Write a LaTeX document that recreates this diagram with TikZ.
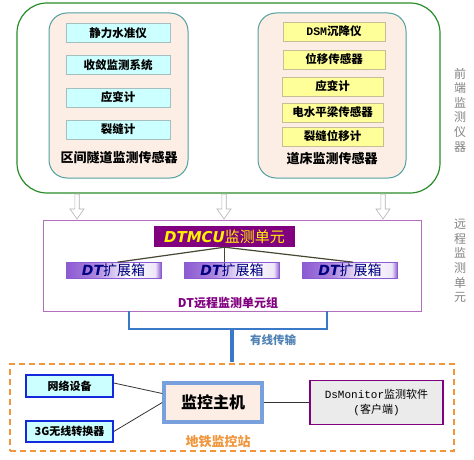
\documentclass[tikz,border=0pt]{standalone}
\usepackage{fontspec}
\setmainfont{Noto Sans CJK SC}
\newfontfamily\dvs{DejaVu Sans}
\newfontfamily\lmono{Liberation Mono}
\definecolor{cgreen}{RGB}{40,140,40}
\definecolor{cteal}{RGB}{80,160,160}
\definecolor{cpeach}{RGB}{252,238,228}
\definecolor{ccyan}{RGB}{204,255,255}
\definecolor{ccyanb}{RGB}{165,190,190}
\definecolor{cyel}{RGB}{255,255,153}
\definecolor{cyelb}{RGB}{200,190,150}
\definecolor{cpurb}{RGB}{180,110,190}
\definecolor{cpur}{RGB}{128,0,128}
\definecolor{cdtp}{RGB}{140,90,210}
\definecolor{cnavy}{RGB}{0,0,128}
\definecolor{cline}{RGB}{70,70,50}
\definecolor{cblue}{RGB}{58,120,200}
\definecolor{cwire}{RGB}{80,130,180}
\definecolor{corange}{RGB}{240,150,60}
\definecolor{cnetb}{RGB}{20,40,220}
\definecolor{chostb}{RGB}{120,160,220}
\definecolor{cgrayf}{RGB}{235,235,235}
\definecolor{cside}{RGB}{130,130,130}
\pgfdeclarehorizontalshading{dtshade}{100bp}{color(0bp)=(cdtp); color(25bp)=(cdtp); color(40bp)=(cdtp!75); color(58bp)=(white); color(72bp)=(white!85!cdtp); color(75bp)=(cdtp); color(100bp)=(cdtp)}
\tikzset{
  fsz/.style={font=\fontsize{#1}{#1}\selectfont},
  cyanbox/.style={draw=ccyanb, fill=ccyan, line width=0.8pt, minimum width=104pt, minimum height=19pt, inner sep=0pt, font=\fontsize{11.5}{12}\selectfont\bfseries},
  yelbox/.style={draw=cyelb, fill=cyel, line width=0.8pt, minimum height=19pt, inner sep=0pt, font=\fontsize{11.5}{12}\selectfont\bfseries},
  groupbox/.style={draw=cteal, fill=cpeach, line width=1pt, rounded corners=18pt},
  dtbox/.style={draw=cdtp, shading=dtshade, line width=0.6pt, minimum width=95pt, minimum height=16pt, inner sep=0pt, text=cnavy, font=\fontsize{14}{14}\selectfont},
  harrow/.pic={\draw[gray!60, fill=white, line width=0.6pt] (-2.2,0) -- (-2.2,15) -- (-7,15) -- (0,25) -- (7,15) -- (2.2,15) -- (2.2,0) -- cycle;},
  sidetxt/.style={text=cside, align=center, font=\fontsize{12}{14.6}\selectfont},
}
\begin{document}
\begin{tikzpicture}[x=1pt,y=-1pt]
\useasboundingbox (0,0) rectangle (474,460);
% front-end group
\node[draw=cgreen, line width=1.2pt, rounded corners=30pt, minimum width=423pt, minimum height=190pt] (front) at (228.5,98) {};
\node[groupbox, minimum width=139pt, minimum height=165pt] (tun) at (118.5,95.5) {};
\node[groupbox, minimum width=148pt, minimum height=165pt] (bed) at (332,95.5) {};
\node[cyanbox] (t1) at (118,33) {静力水准仪};
\node[cyanbox] (t2) at (118,65) {收敛监测系统};
\node[cyanbox] (t3) at (118,97.5) {应变计};
\node[cyanbox] (t4) at (118,129.5) {裂缝计};
\node[font=\fontsize{13}{13}\selectfont\bfseries] (tunlab) at (119,158) {区间隧道监测传感器};
\node[yelbox, minimum width=102pt] (b1) at (334,31.5) {{\lmono\bfseries DSM}沉降仪};
\node[yelbox, minimum width=102pt] (b2) at (334,59.5) {位移传感器};
\node[yelbox, minimum width=101pt] (b3) at (332.5,86.5) {应变计};
\node[yelbox, minimum width=101pt] (b4) at (332.5,112.5) {电水平梁传感器};
\node[yelbox, minimum width=101pt] (b5) at (332.5,136.5) {裂缝位移计};
\node[font=\fontsize{13}{13}\selectfont\bfseries] (bedlab) at (332,159) {道床监测传感器};
\node[sidetxt] (side1) at (460,110) {前\\端\\监\\测\\仪\\器};
% hollow arrows
\pic at (77,194) {harrow};
\pic at (224,194) {harrow};
\pic at (383,194) {harrow};
% remote unit group
\node[draw=cpurb, line width=1pt, minimum width=378pt, minimum height=91pt, inner sep=0pt] (grp) at (232,265.5) {};
\node[fill=cpur, minimum width=141pt, minimum height=21pt, inner sep=0pt, text=yellow, font=\fontsize{15}{15}\selectfont] (mcu) at (224.5,236.5) {{\dvs\bfseries\itshape DTMCU}监测单元};
\node[dtbox] (dt1) at (113.5,270.5) {{\dvs\bfseries\itshape DT}扩展箱};
\node[dtbox] (dt2) at (232,270.5) {{\dvs\bfseries\itshape DT}扩展箱};
\node[dtbox] (dt3) at (350,270.5) {{\dvs\bfseries\itshape DT}扩展箱};
\draw[cline, line width=1.2pt] (mcu.south) -- ([xshift=4pt]dt1.north);
\draw[cline, line width=1.2pt] (mcu.south) -- (mcu.south |- dt2.north);
\draw[cline, line width=1.2pt] (mcu.south) -- ([xshift=3pt]dt3.north);
\node[text=cpur, font=\fontsize{12}{12}\selectfont\bfseries] (grplab) at (228,303) {DT远程监测单元组};
\node[sidetxt] (side2) at (460,261) {远\\程\\监\\测\\单\\元};
% wired link
\coordinate (bl) at (129,311);
\coordinate (br) at (327,311);
\coordinate (bj) at (232,329);
\coordinate (bend) at (232,362);
\draw[cblue, line width=2pt] (bl) -- (bl |- bj) -- (br |- bj) -- (br);
\draw[cblue, line width=4pt] (bj) -- (bend);
\node[text=cwire, font=\fontsize{11.5}{12}\selectfont\bfseries] (wire) at (273,340) {有线传输};
% station
\node[draw=corange, dashed, dash pattern=on 6pt off 4pt, line width=1.2pt, minimum width=444pt, minimum height=87pt, inner sep=0pt] (stn) at (232,407.5) {};
\node[draw=cnetb, fill=ccyan, line width=1.5pt, minimum width=87pt, minimum height=22pt, inner sep=0pt, font=\fontsize{11}{11}\selectfont\bfseries] (net) at (69.5,386) {网络设备};
\node[draw=cnetb, fill=ccyan, line width=1.5pt, minimum width=87pt, minimum height=21pt, inner sep=0pt, font=\fontsize{11}{11}\selectfont\bfseries] (g3) at (69.5,431.5) {3G无线转换器};
\node[draw=chostb, fill=cpeach, line width=3.5pt, minimum width=98pt, minimum height=39pt, inner sep=0pt, font=\fontsize{16}{16}\selectfont\bfseries] (host) at (213,402.5) {监控主机};
\node[draw=cpur, fill=cgrayf, line width=1.2pt, minimum width=133pt, minimum height=44pt, inner sep=0pt, align=center, font=\fontsize{11}{15}\selectfont] (ds) at (376.5,402.5) {{\lmono DsMonitor}监测软件\\{\lmono (}客户端{\lmono )}};
\draw[black!80, line width=0.8pt] ([yshift=3pt]net.east) -- ([yshift=9pt]host.west);
\draw[black!80, line width=0.8pt] (g3.east) -- (host.west);
\draw[black!80, line width=0.8pt] (host.east) -- (ds.west);
\node[text=corange, font=\fontsize{13}{13}\selectfont\bfseries] (stnlab) at (218,442) {地铁监控站};
\end{tikzpicture}
\end{document}
